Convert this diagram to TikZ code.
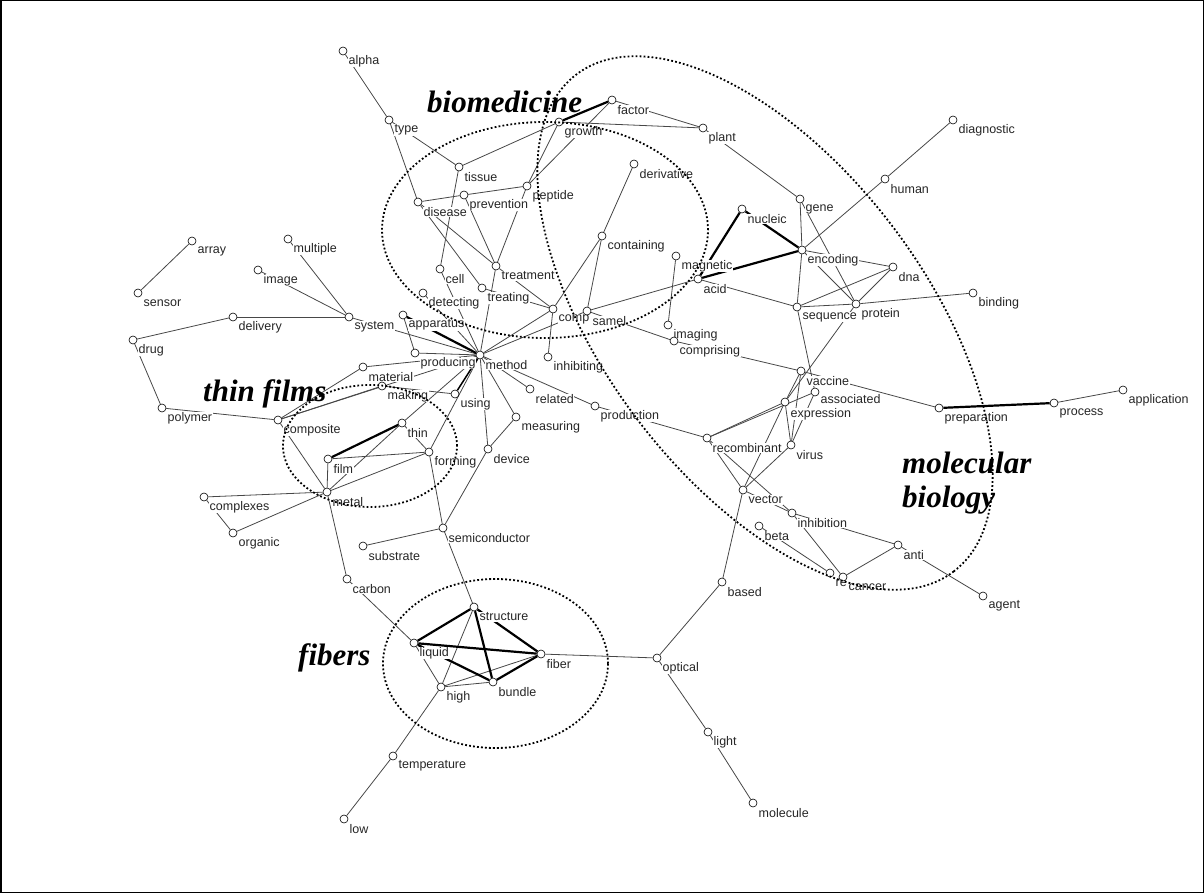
\documentclass[tikz,border=0pt]{standalone}
\usepackage{fontspec}
\newfontfamily\lblfont{Liberation Sans}
\newfontfamily\ttlfont{Liberation Serif}
\pgfdeclarelayer{edgelayer}
\pgfdeclarelayer{labellayer}
\pgfsetlayers{edgelayer,labellayer,main}
\begin{document}
\begin{tikzpicture}[x=1pt,y=-1pt,
  nd/.style={circle,draw=black,fill=white,inner sep=0pt,minimum size=8pt,line width=0.6pt},
  lbl/.style={anchor=west,fill=white,inner sep=0.5pt,text=black!85,font={\lblfont\fontsize{12.5pt}{14pt}\selectfont}},
  edge/.style={draw=black!72,line width=0.8pt},
  heavy/.style={draw=black,line width=2.2pt},
  medium/.style={draw=black,line width=1.5pt},
  region/.style={draw=black,line width=1.8pt,dash pattern=on 1.8pt off 2.2pt},
  title/.style={font={\ttlfont\bfseries\itshape\fontsize{31pt}{34pt}\selectfont},anchor=base west,inner sep=0pt}
]
\useasboundingbox (0,0) rectangle (1204,893);
\draw[line width=1.5pt] (0.75,0.75) rectangle (1203.25,892.25);

\def\nodelist{alpha/343/51, type/389/120, tissue/459/167, disease/418/202, prevention/464/195,
 peptide/527/186, growth/559/122, factor/612/100, plant/703/128, derivative/634/164,
 containing/602/236, cell/440/269, treatment/496/266, treating/482/288, detecting/423/293,
 apparatus/403/315, producing/415/353, method/480/355, comp/553/309, samel/587/311,
 inhibiting/548/357, magnetic/676/256, acid/698/279, nucleic/742/209, gene/800/199,
 encoding/802/250, human/885/179, diagnostic/953/120, dna/893/267, sequence/797/307,
 protein/856/304, binding/973/293, imaging/668/325, comprising/674/341, vaccine/801/371,
 recombinant/707/438, virus/791/445, vector/743/490,
 inhibition/792/513, beta/759/526, preparation/939/408, process/1054/403, application/1123/390,
 anti/898/545, re/830/573, cancer/843/577, agent/983/596, based/722/582,
 optical/657/658, light/708/732, molecule/753/803, array/192/241, sensor/138/293,
 multiple/288/239, image/258/270, system/349/317, delivery/233/317, drug/133/340,
 polymer/162/408, composite/278/420, material/363/367, making/382/386, using/455/394,
 film/328/459, thin/402/423, forming/429/452, metal/327/492, complexes/204/497,
 organic/233/533, related/530/389, production/595/406, measuring/516/417, device/488/449,
 semiconductor/443/528, substrate/363/546, carbon/347/579, structure/474/607, liquid/414/643,
 fiber/541/654, bundle/493/682, high/441/687, temperature/393/756, low/344/819}

% circles (main layer)
\foreach \n/\x/\y in \nodelist { \node[nd] (\n) at (\x,\y) {}; }
\node[nd] (associated) at (815,392) {};
\node[nd] (expression) at (785,402) {};

% labels
\begin{pgfonlayer}{labellayer}
\foreach \n/\x/\y in \nodelist { \node[lbl] (\n-t) at (\x+5,\y+10) {\n}; }
\node[lbl] (expression-t) at (790,414) {expression};
\node[lbl] (associated-t) at (820,399) {associated};
\end{pgfonlayer}

% connectors
\begin{pgfonlayer}{edgelayer}
\foreach \a/\b in {alpha/type, type/disease, type/tissue, tissue/growth, tissue/cell,
 disease/prevention, prevention/peptide, disease/treatment, disease/treating, prevention/treatment,
 peptide/treatment, peptide/growth, peptide/factor, growth/plant, factor/plant, plant/gene,
 gene/encoding, gene/protein, encoding/dna, encoding/protein, encoding/sequence, encoding/human,
 human/diagnostic, sequence/dna, protein/dna, sequence/protein, protein/binding, acid/sequence,
 magnetic/imaging, samel/acid, samel/comprising, containing/derivative, containing/comp,
 containing/samel, treatment/comp, treating/comp, treatment/method, cell/method, detecting/method,
 apparatus/producing, producing/method, system/method, material/method, composite/method,
 comp/method, samel/method, comp/inhibiting, method/related, method/production, method/measuring,
 method/device, measuring/device, device/semiconductor, method/forming, method/thin, making/using,
 composite/material, composite/making, composite/metal, polymer/composite, drug/polymer,
 drug/delivery, delivery/system, multiple/system, image/system, array/sensor, film/forming,
 film/metal, metal/thin, metal/forming, metal/complexes, metal/organic, complexes/organic,
 metal/carbon, thin/forming, forming/semiconductor, semiconductor/substrate,
 semiconductor/structure, carbon/liquid, liquid/high, structure/high, high/bundle, high/fiber,
 fiber/optical, high/temperature, temperature/low, optical/based, based/vector, optical/light,
 light/molecule, comprising/vaccine, sequence/associated, protein/expression, vaccine/expression,
 vaccine/virus, vaccine/preparation, process/application, associated/recombinant,
 expression/recombinant, expression/virus, associated/virus, production/recombinant,
 recombinant/vector, recombinant/inhibition, vector/inhibition, vector/virus, vector/expression,
 inhibition/anti, inhibition/cancer, beta/re, anti/cancer, anti/agent}
 { \draw[edge] (\a) -- (\b); }
\foreach \a/\b in {growth/factor, nucleic/acid, acid/encoding, nucleic/encoding, apparatus/method,
 film/thin, preparation/process, liquid/structure, liquid/fiber, liquid/bundle, structure/bundle,
 structure/fiber, bundle/fiber}
 { \draw[heavy] (\a) -- (\b); }
\draw[medium] (method) -- (using);
\end{pgfonlayer}

% regions
\draw[region] (545,230) ellipse [x radius=163pt, y radius=108pt];
\draw[region] (370,446) ellipse [x radius=87pt, y radius=61pt];
\draw[region] (495.5,663.5) ellipse [x radius=112.5pt, y radius=84.5pt];
\draw[region, rotate around={-52.8:(765,323)}] (765,323) ellipse [x radius=312pt, y radius=160pt];

% titles
\node[title] (t-bio) at (427,113) {biomedicine};
\node[title] (t-thin) at (203,401) {thin films};
\node[title] (t-fib) at (298,665) {fibers};
\node[title] (t-mol1) at (902,473) {molecular};
\node[title] (t-mol2) at (902,507) {biology};
\end{tikzpicture}
\end{document}
